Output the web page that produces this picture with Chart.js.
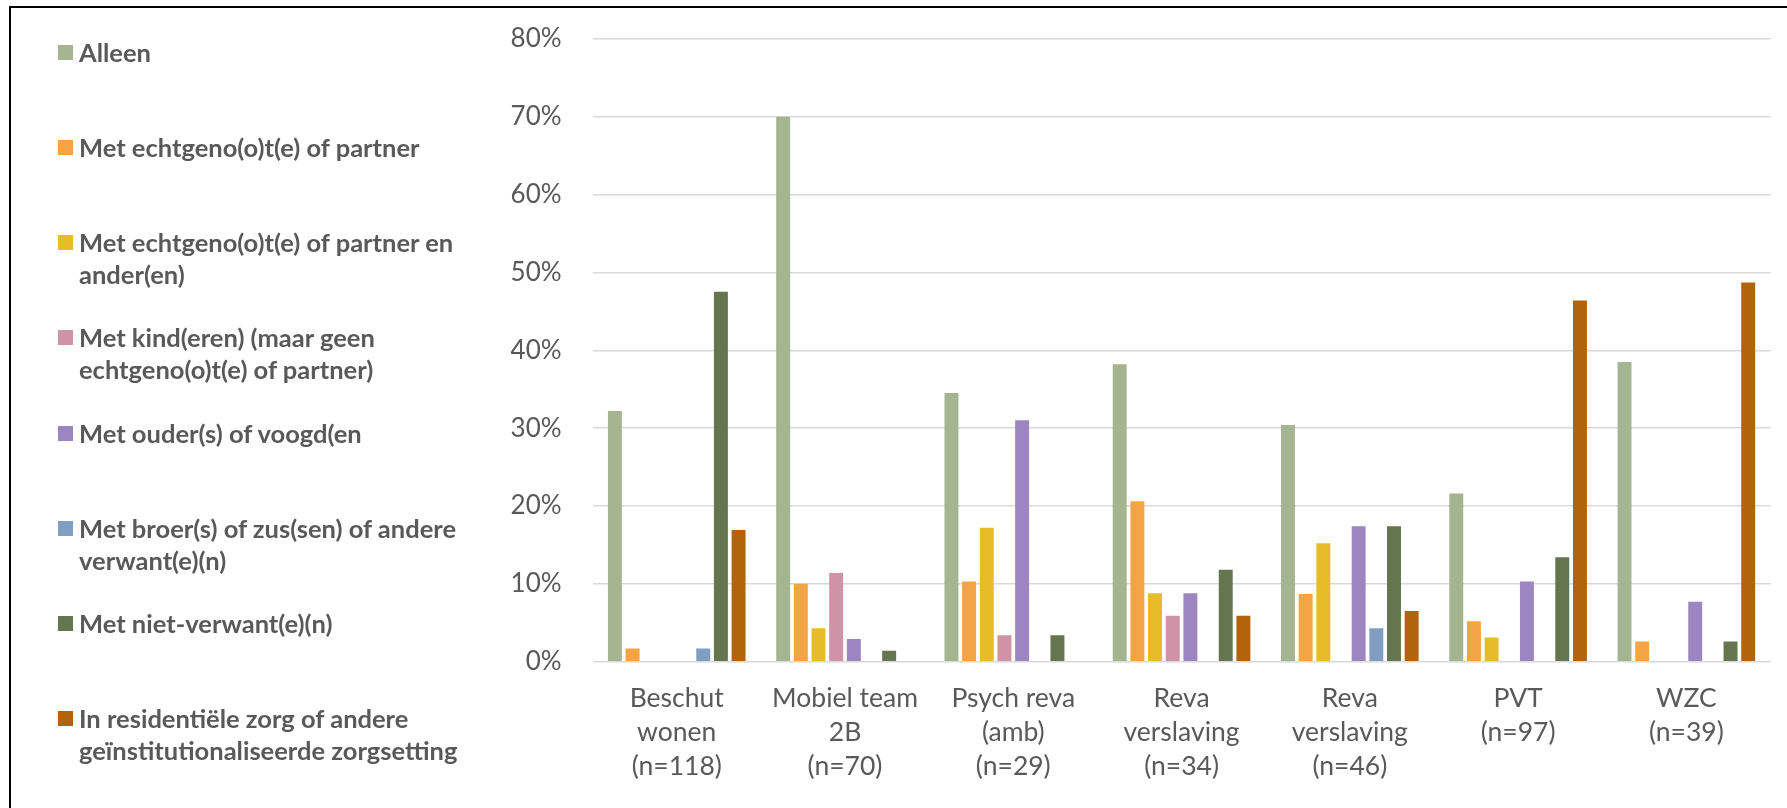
<!DOCTYPE html>
<html>
<head>
<meta charset="utf-8">
<script src="https://cdn.jsdelivr.net/npm/chart.js@4"></script>
<style>
  html, body { margin: 0; padding: 0; background: #fff; }
  #frame { position: relative; width: 1787px; height: 808px; overflow: hidden; }
  #border {
    position: absolute; left: 9px; top: 6px; right: -10px; bottom: -10px;
    border-left: 2px solid #000; border-top: 2px solid #000;
  }
  #trendChart { position: absolute; left: 0; top: 0; }
  #legend {
    position: absolute; left: 0; top: 36px; z-index: 2;
    font-family: Lato, sans-serif; font-weight: 700; font-size: 25.5px;
    color: #595959; line-height: 32px;
  }
  .item { position: relative; height: 95.15px; padding-left: 79px; white-space: nowrap; }
  .swatch { position: absolute; left: 58px; top: 9px; width: 15px; height: 15px; }
</style>
</head>
<body>
<div id="frame">
  <div id="border"></div>
  <canvas id="trendChart" width="1787" height="808"></canvas>
  <div id="legend"></div>
</div>
<script>
const categories = [
  ["Beschut", "wonen", "(n=118)"],
  ["Mobiel team", "2B", "(n=70)"],
  ["Psych reva", "(amb)", "(n=29)"],
  ["Reva", "verslaving", "(n=34)"],
  ["Reva", "verslaving", "(n=46)"],
  ["PVT", "(n=97)"],
  ["WZC", "(n=39)"]
];

const seriesLines = [
  ["Alleen"],
  ["Met echtgeno(o)t(e) of partner"],
  ["Met echtgeno(o)t(e) of partner en", "ander(en)"],
  ["Met kind(eren) (maar geen", "echtgeno(o)t(e) of partner)"],
  ["Met ouder(s) of voogd(en"],
  ["Met broer(s) of zus(sen) of andere", "verwant(e)(n)"],
  ["Met niet-verwant(e)(n)"],
  ["In residentiële zorg of andere", "geïnstitutionaliseerde zorgsetting"]
];

// percentages per category
const alleen = [32.2, 70.0, 34.5, 38.2, 30.4, 21.6, 38.5];
const partner = [1.7, 10.0, 10.3, 20.6, 8.7, 5.2, 2.6];
const partnerEnAnderen = [0, 4.3, 17.2, 8.8, 15.2, 3.1, 0];
const kinderen = [0, 11.4, 3.4, 5.9, 0, 0, 0];
const ouders = [0, 2.9, 31.0, 8.8, 17.4, 10.3, 7.7];
const broersZussen = [1.7, 0, 0, 0, 4.3, 0, 0];
const nietVerwanten = [47.5, 1.4, 3.4, 11.8, 17.4, 13.4, 2.6];
const residentieel = [16.9, 0, 0, 5.9, 6.5, 46.4, 48.7];

const seriesValues = [alleen, partner, partnerEnAnderen, kinderen, ouders, broersZussen, nietVerwanten, residentieel];
const seriesColors = ["#A5B592", "#F3A447", "#E7BC29", "#D092A7", "#9C85C0", "#809EC2", "#64754F", "#B1640B"];

const yTickLabels = ["0%", "10%", "20%", "30%", "40%", "50%", "60%", "70%", "80%"];

const textColor = "#595959";

const htmlLegend = {
  id: "htmlLegend",
  afterUpdate(chart) {
    const box = document.getElementById("legend");
    box.innerHTML = "";
    chart.data.datasets.forEach((ds, i) => {
      const item = document.createElement("div");
      item.className = "item";
      const swatch = document.createElement("span");
      swatch.className = "swatch";
      swatch.style.background = ds.backgroundColor;
      item.appendChild(swatch);
      seriesLines[i].forEach((line, j) => {
        if (j > 0) item.appendChild(document.createElement("br"));
        item.appendChild(document.createTextNode(line));
      });
      box.appendChild(item);
    });
  }
};

const chartCanvas = document.getElementById("trendChart");

const chart = new Chart(chartCanvas, {
  type: "bar",
  data: {
    labels: categories,
    datasets: seriesValues.map((values, i) => ({
      label: seriesLines[i].join(" "),
      data: values,
      backgroundColor: seriesColors[i],
      borderWidth: 0,
      categoryPercentage: 0.84,
      barPercentage: 0.79
    }))
  },
  options: {
    responsive: false,
    animation: false,
    layout: {
      padding: { left: 440, top: 38.8, right: 16.5, bottom: 0 }
    },
    plugins: {
      legend: { display: false },
      tooltip: { enabled: false }
    },
    scales: {
      x: {
        grid: { display: false },
        border: { display: false },
        ticks: {
          color: textColor,
          font: { family: "Lato", size: 26.5, lineHeight: 1.283 },
          padding: 12,
          maxRotation: 0,
          autoSkip: false
        },
        afterFit: scale => { scale.height = 146.3; }
      },
      y: {
        min: 0,
        max: 80,
        ticks: {
          stepSize: 10,
          padding: 0,
          color: textColor,
          font: { family: "Lato", size: 26 },
          callback: (value, index) => yTickLabels[index]
        },
        grid: {
          color: "#d9d9d9",
          lineWidth: 1.5,
          drawTicks: true,
          tickLength: 31,
          tickColor: "rgba(0,0,0,0)"
        },
        border: { display: false },
        afterFit: scale => { scale.width = 152.6; }
      }
    }
  },
  plugins: [htmlLegend]
});
</script>
</body>
</html>
